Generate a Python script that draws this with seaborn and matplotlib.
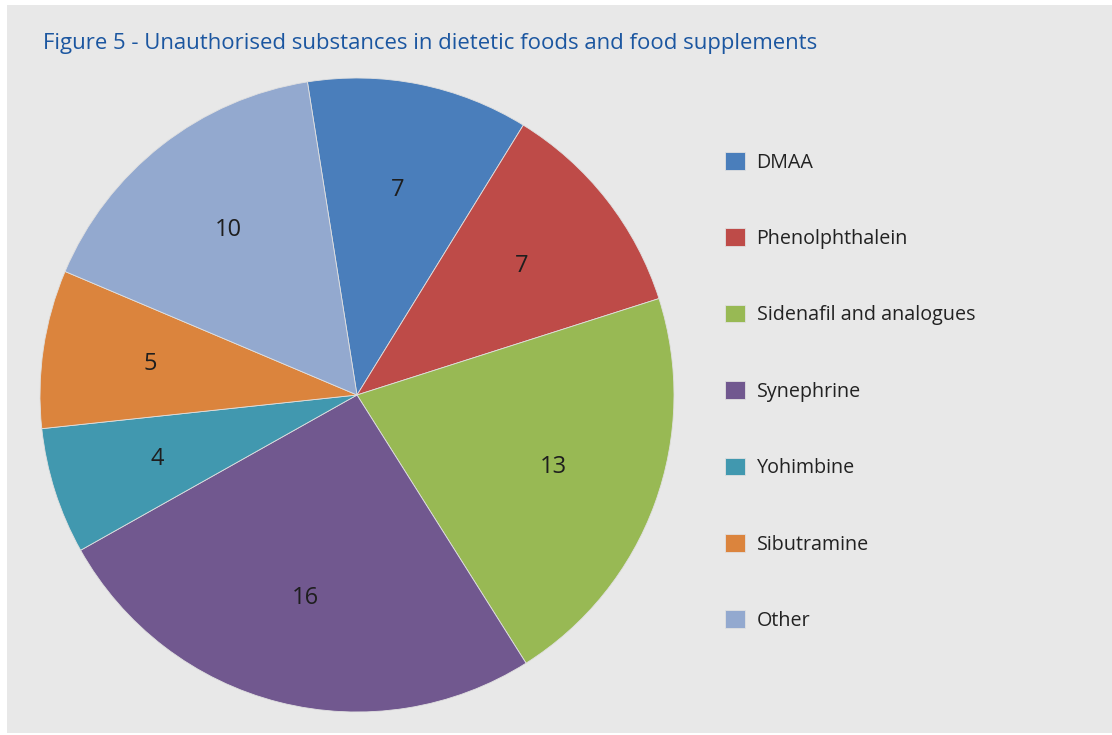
import matplotlib
matplotlib.use('Agg')
import matplotlib.pyplot as plt
from matplotlib.patches import Rectangle
import seaborn as sns

# Data
substances = ['DMAA', 'Phenolphthalein', 'Sidenafil and analogues', 'Synephrine',
              'Yohimbine', 'Sibutramine', 'Other']
counts = [7, 7, 13, 16, 4, 5, 10]
slice_colors = ['#4a7ebb', '#be4b48', '#98b954', '#71588f', '#4198af', '#db843d', '#93a9cf']

title = 'Figure 5 - Unauthorised substances in dietetic foods and food supplements'

sns.set_theme(style='white')
plt.rcParams['font.family'] = ['Open Sans', 'DejaVu Sans']

palette = sns.color_palette(slice_colors)
total = sum(counts)

fig = plt.figure(figsize=(11.12, 7.35), dpi=100, facecolor='white')
# grey panel behind the chart
fig.patches.append(Rectangle((7 / 1112, 2 / 735), 1 - 7 / 1112, 728 / 735,
                             transform=fig.transFigure, facecolor='#e8e8e8',
                             edgecolor='none', zorder=-5))

ax = fig.add_axes([40 / 1112, 23 / 735, 634 / 1112, 634 / 735])
ax.set_facecolor('none')
ax.set_zorder(2)
wedges, _, autotexts = ax.pie(counts, colors=palette, startangle=99, counterclock=False,
                              autopct=lambda p: f'{round(p * total / 100):d}',
                              pctdistance=0.66,
                              wedgeprops=dict(edgecolor='#e0e0e0', linewidth=0.6),
                              textprops=dict(color='#1e1e1e', fontsize=17))
ax.set_xlim(-1, 1)
ax.set_ylim(-1, 1)
ax.set_aspect('equal')
ax.axis('off')

fig.text(43 / 1112, 1 - 43 / 735, title, color='#1b56a0', fontsize=15.9,
         ha='left', va='center')

fig.legend(wedges, substances, loc='upper left', bbox_to_anchor=(725 / 1112, 1 - 152 / 735),
           frameon=False, fontsize=14.2, handlelength=1.0, handleheight=1.0,
           handletextpad=0.6, labelspacing=2.83, borderpad=0, borderaxespad=0,
           labelcolor='#222222')

fig.savefig('out.png', dpi=100, facecolor='white')
